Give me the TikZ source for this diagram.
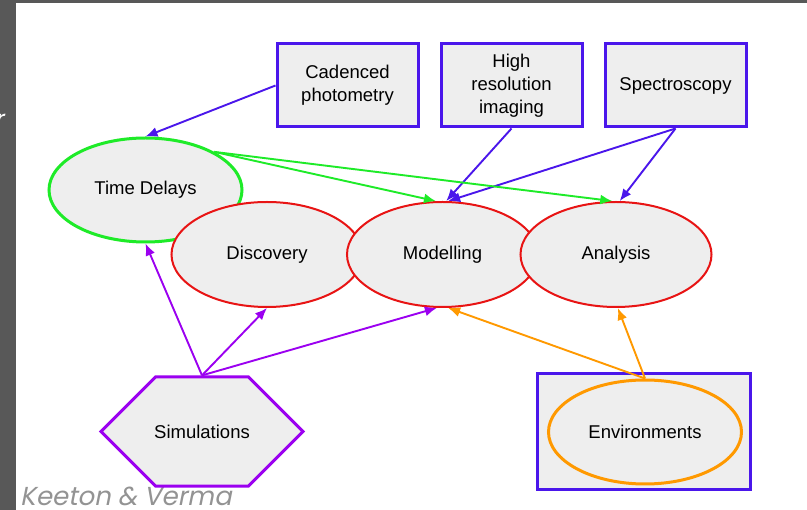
\documentclass[tikz,border=0pt]{standalone}
\usepackage{fontspec}
\setmainfont{Liberation Sans}
\newfontfamily\creditfont[FakeSlant=0.2]{Poppins}
\usetikzlibrary{arrows.meta, shapes.geometric, shapes.misc, positioning}
\definecolor{boxblue}{RGB}{74,22,235}
\definecolor{tdgreen}{RGB}{30,235,40}
\definecolor{stagered}{RGB}{232,20,20}
\definecolor{simpurple}{RGB}{155,0,240}
\definecolor{envorange}{RGB}{255,153,0}
\definecolor{panel}{RGB}{238,238,238}
\definecolor{slidegray}{RGB}{88,88,88}

\begin{document}
\begin{tikzpicture}[x=1pt, y=-1pt, font=\fontsize{18.5}{23}\selectfont, align=center,
    src/.style={draw=boxblue, line width=3pt, fill=panel, minimum width=141pt, minimum height=83pt},
    task/.style={ellipse, draw=stagered, line width=2pt, fill=panel, minimum width=191pt, minimum height=105pt},
    arrow/.style={-{Latex[length=12pt,width=10pt]}, line width=1.9pt}
]
    \fill[white] (0,0) rectangle (807,510);
    \fill[slidegray] (0,0) rectangle (16,510);
    \fill[slidegray] (0,0) rectangle (807,3);
    \useasboundingbox (0,0) rectangle (807,510);

    \node[text=white, font=\creditfont\fontsize{24}{28}\selectfont, anchor=base east] (rcut) at (7,128) {r};
    \node[text=gray!85, font=\creditfont\fontsize{26}{30}\selectfont, anchor=base west, inner sep=0pt] (credit) at (20,506) {Keeton \& Verma};

    \node[src] (cad) at (347.5,85.5) {Cadenced\\photometry};
    \node[src] (hires) at (511.5,85.5) {High\\resolution\\imaging};
    \node[src] (spec) at (675.5,85.5) {Spectroscopy};

    \node[task, draw=tdgreen, line width=3pt, minimum width=193pt, minimum height=104pt] (td) at (145.5,190) {Time Delays};
    \node[task] (disc) at (267,254.5) {Discovery};
    \node[task] (mod) at (442.5,254.5) {Modelling};
    \node[task] (ana) at (616,254.5) {Analysis};

    \node[chamfered rectangle, chamfered rectangle xsep=40pt, chamfered rectangle ysep=51.5pt,
          draw=simpurple, line width=3pt, fill=panel, inner sep=0pt,
          minimum width=202pt, minimum height=103pt] (sim) at (202,431.5) {Simulations};

    \node[draw=boxblue, line width=3pt, fill=panel, minimum width=213pt, minimum height=116pt] (envbox) at (643.5,432) {};
    \node[ellipse, draw=envorange, line width=3pt, fill=panel, minimum width=193pt, minimum height=104pt] (env) at (645,432) {Environments};

    \draw[arrow, boxblue] (cad.west) -- (td.north);
    \draw[arrow, boxblue] (hires.south) -- (mod.86);
    \draw[arrow, boxblue] (spec.south) -- (mod.84);
    \draw[arrow, boxblue] (spec.south) -- (ana.86);

    \draw[arrow, tdgreen] (td.29) -- (mod.97);
    \draw[arrow, tdgreen] (td.29) -- (ana.94);

    \draw[arrow, simpurple] (sim.north) -- (td.south);
    \draw[arrow, simpurple] (sim.north) -- (disc.south);
    \draw[arrow, simpurple] (sim.north) -- (mod.264);

    \draw[arrow, envorange] (env.north) -- (mod.276);
    \draw[arrow, envorange] (env.north) -- (ana.272);
\end{tikzpicture}
\end{document}
